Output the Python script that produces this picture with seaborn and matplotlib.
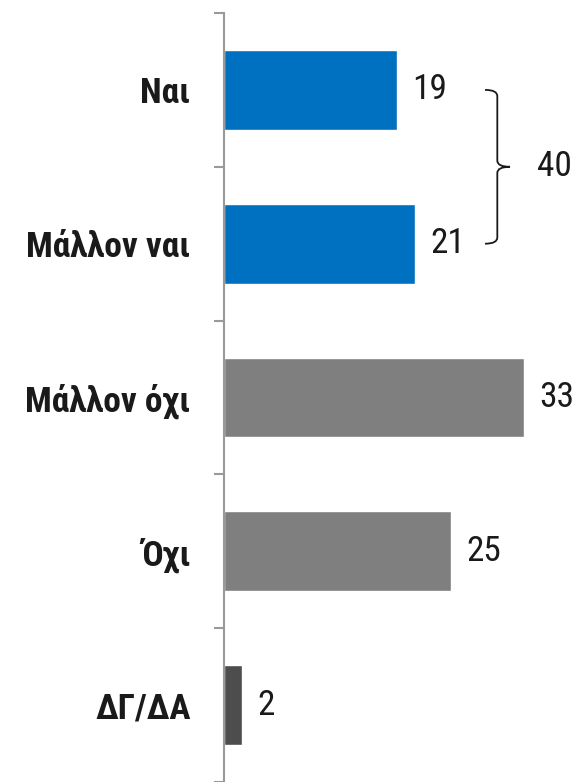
import matplotlib
matplotlib.use("Agg")
import matplotlib.pyplot as plt
from matplotlib.path import Path
from matplotlib.patches import PathPatch
import seaborn as sns
import pandas as pd

categories = ["Ναι", "Μάλλον ναι", "Μάλλον όχι", "Όχι", "ΔΓ/ΔΑ"]
values = [19, 21, 33, 25, 2]
colors = ["#0070C0", "#0070C0", "#7F7F7F", "#7F7F7F", "#4D4D4D"]
bracket_total = 40

sns.set_theme(style="white")
plt.rcParams["font.family"] = ["Roboto Condensed", "DejaVu Sans"]

df = pd.DataFrame({"cat": categories, "val": values})

W, H = 578, 782
fig = plt.figure(figsize=(W / 100, H / 100), dpi=100)
left_px, top_px = 224, 13
ax = fig.add_axes([left_px / W, 0, 1 - left_px / W, (H - top_px) / H])

sns.barplot(data=df, x="val", y="cat", hue="cat", palette=dict(zip(categories, colors)),
            order=categories, legend=False, width=0.52, ax=ax, saturation=1)

px_per_unit = 9.08
ax.set_xlim(0, (W - left_px) / px_per_unit)
ax.set_ylim(len(categories) - 0.5, -0.5)
ax.set_xlabel("")
ax.set_ylabel("")
ax.set_xticks([])

for s in ["top", "right", "bottom"]:
    ax.spines[s].set_visible(False)
ax.spines["left"].set_color("#999999")
ax.spines["left"].set_linewidth(1.5)

ax.set_yticks(range(len(categories)))
ax.set_yticklabels(categories, fontsize=25.5, fontweight="bold", color="#1a1a1a")
ax.tick_params(axis="y", which="major", length=0, pad=24)
ax.set_yticks([i - 0.5 for i in range(len(categories) + 1)], minor=True)
ax.tick_params(axis="y", which="minor", length=7.5, width=1.5, color="#999999", direction="out", left=True)

for i, v in enumerate(values):
    ax.annotate(str(v), xy=(v, i), xytext=(11, 0), textcoords="offset points",
                ha="left", va="center", fontsize=25.5, color="#1a1a1a")

# bracket joining first two bars
xa, xb, xt = 28.75, 30.1, 31.5
y0, y1 = 0.0, 1.0
ym = (y0 + y1) / 2
r = 0.04
verts = [(xa, y0), (xb, y0), (xb, y0 + r), (xb, ym - r), (xb, ym), (xt, ym),
         (xt, ym), (xb, ym), (xb, ym + r), (xb, y1 - r), (xb, y1), (xa, y1)]
codes = [Path.MOVETO, Path.CURVE3, Path.CURVE3, Path.LINETO, Path.CURVE3, Path.CURVE3,
         Path.MOVETO, Path.CURVE3, Path.CURVE3, Path.LINETO, Path.CURVE3, Path.CURVE3]
ax.add_patch(PathPatch(Path(verts, codes), fill=False, lw=1.3, edgecolor="#1a1a1a", clip_on=False))
ax.text(34.5, ym, str(bracket_total), ha="left", va="center", fontsize=25.5, color="#1a1a1a")

fig.savefig("out.png", dpi=100)
